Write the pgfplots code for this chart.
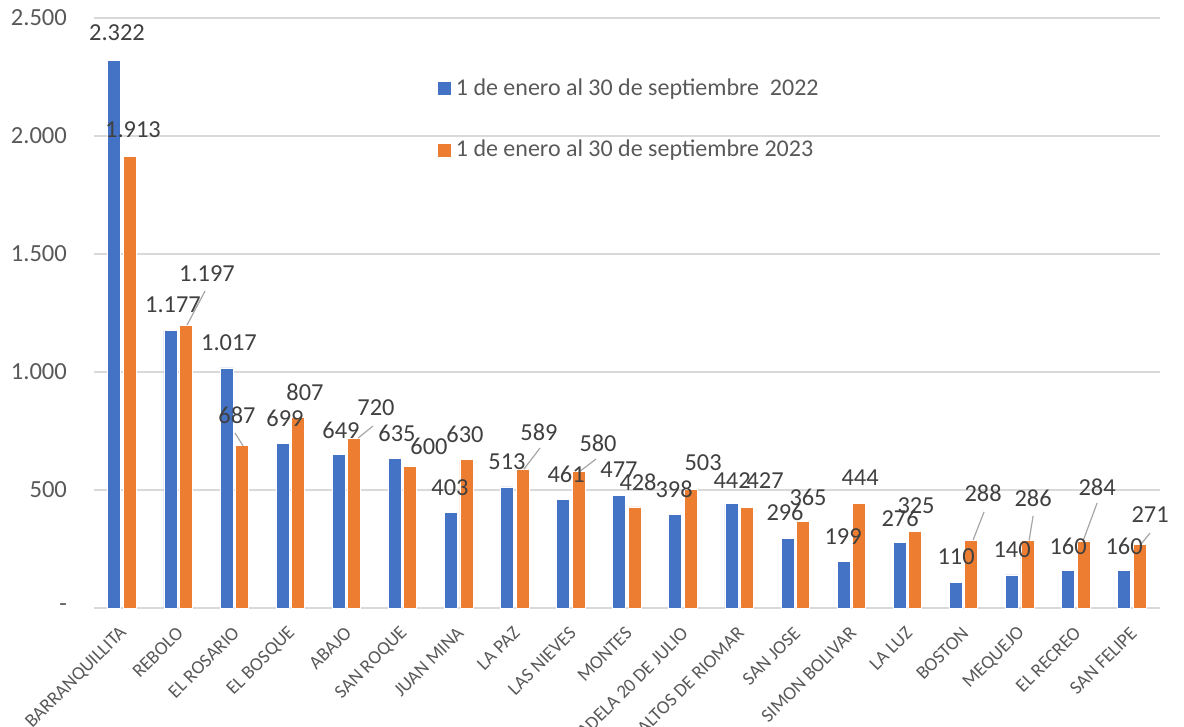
\documentclass[border=0pt]{standalone}
\usepackage{pgfplots}
\pgfplotsset{compat=1.18}
\usepackage{fontspec}
\setmainfont{Carlito}
\definecolor{cblue}{HTML}{4472C4}
\definecolor{corange}{HTML}{ED7D31}
\definecolor{tickc}{HTML}{595959}
\definecolor{labc}{HTML}{404040}
\definecolor{gridc}{HTML}{D9D9D9}
\definecolor{leadc}{HTML}{A6A6A6}
\newcommand{\fs}{\fontsize{9.5}{11}\selectfont}
\newcommand{\fl}{\fontsize{12.2}{14}\selectfont}
\newcommand{\fy}{\fontsize{12.3}{14}\selectfont}
\newcommand{\fg}{\fontsize{12}{14}\selectfont}
\begin{document}
\begin{tikzpicture}
\begin{axis}[
  at={(0,0)}, anchor=south west,
  scale only axis, width=533pt, height=295pt,
  ymin=0, ymax=2500, xmin=-0.5, xmax=18.5,
  ybar=1.25pt, bar width=6.5pt,
  clip=false,
  separate axis lines,
  axis x line*=bottom, axis y line*=left,
  x axis line style={color=gridc, line width=0.8pt},
  y axis line style={draw=none},
  ymajorgrids, grid style={color=gridc, line width=0.6pt},
  major tick length=0pt,
  ytick={0,500,1000,1500,2000,2500},
  yticklabels={-,500,1.000,1.500,2.000,2.500},
  yticklabel style={font=\fy, color=tickc, xshift=-10pt},
  xtick={0,...,18},
  xticklabels={BARRANQUILLITA,REBOLO,EL ROSARIO,EL BOSQUE,ABAJO,SAN ROQUE,JUAN MINA,LA PAZ,LAS NIEVES,MONTES,CIUDADELA 20 DE JULIO,ALTOS DE RIOMAR,SAN JOSE,SIMON BOLIVAR,LA LUZ,BOSTON,MEQUEJO,EL RECREO,SAN FELIPE},
  xticklabel style={font=\fs, color=tickc, xshift=1pt, yshift=-11pt, rotate=45, anchor=east, inner sep=0pt},
  legend style={draw=none, fill=none, at={(0.3215,0.905)}, anchor=north west, font=\fg, text=tickc, row sep=17pt, inner sep=0pt},
  legend cell align=left,
  legend image code/.code={\fill[#1] (0pt,-3.5pt) rectangle (7pt,3.5pt);},
]
\addplot[fill=cblue, draw=white, line width=0.4pt] coordinates {
(0,2322) (1,1177) (2,1017) (3,699) (4,649) (5,635) (6,403) (7,513) (8,461) (9,477)
(10,398) (11,442) (12,296) (13,199) (14,276) (15,110) (16,140) (17,160) (18,160)};
\addlegendentry{1 de enero al 30 de septiembre\ \ 2022}
\addplot[fill=corange, draw=white, line width=0.4pt] coordinates {
(0,1913) (1,1197) (2,687) (3,807) (4,720) (5,600) (6,630) (7,589) (8,580) (9,428)
(10,503) (11,427) (12,365) (13,444) (14,325) (15,288) (16,286) (17,284) (18,271)};
\addlegendentry{1 de enero al 30 de septiembre 2023}
% leader lines
\draw[leadc, line width=0.6pt] (axis cs:1.158,1199) -- (axis cs:1.479,1343);
\draw[leadc, line width=0.6pt] (axis cs:2.013,742) -- (axis cs:2.156,687);
\draw[leadc, line width=0.6pt] (axis cs:4.206,720) -- (axis cs:4.473,771);
\draw[leadc, line width=0.6pt] (axis cs:7.165,589) -- (axis cs:7.450,678);
\draw[leadc, line width=0.6pt] (axis cs:8.163,580) -- (axis cs:8.448,631);
\draw[leadc, line width=0.6pt] (axis cs:15.168,288) -- (axis cs:15.364,407);
\draw[leadc, line width=0.6pt] (axis cs:16.167,286) -- (axis cs:16.238,390);
\draw[leadc, line width=0.6pt] (axis cs:17.129,284) -- (axis cs:17.379,445);
\draw[leadc, line width=0.6pt] (axis cs:18.163,271) -- (axis cs:18.324,318);
% data labels
\tikzset{lbl/.style={font=\fl, text=labc, inner sep=0pt, anchor=center}}
\node[lbl] at (axis cs:-0.090,2436) {2.322};
\node[lbl] at (axis cs:0.195,2025) {1.913};
\node[lbl] at (axis cs:0.908,1284) {1.177};
\node[lbl] at (axis cs:1.514,1415) {1.197};
\node[lbl] at (axis cs:1.906,1123) {1.017};
\node[lbl] at (axis cs:2.049,818) {687};
\node[lbl] at (axis cs:2.905,805) {699};
\node[lbl] at (axis cs:3.261,915) {807};
\node[lbl] at (axis cs:3.903,754) {649};
\node[lbl] at (axis cs:4.527,847) {720};
\node[lbl] at (axis cs:4.901,742) {635};
\node[lbl] at (axis cs:5.471,686) {600};
\node[lbl] at (axis cs:5.846,508) {403};
\node[lbl] at (axis cs:6.113,737) {630};
\node[lbl] at (axis cs:6.862,619) {513};
\node[lbl] at (axis cs:7.432,746) {589};
\node[lbl] at (axis cs:7.914,568) {461};
\node[lbl] at (axis cs:8.484,699) {580};
\node[lbl] at (axis cs:8.858,585) {477};
\node[lbl] at (axis cs:9.197,534) {428};
\node[lbl] at (axis cs:9.839,504) {398};
\node[lbl] at (axis cs:10.356,614) {503};
\node[lbl] at (axis cs:10.873,542) {442};
\node[lbl] at (axis cs:11.461,542) {427};
\node[lbl] at (axis cs:11.817,407) {296};
\node[lbl] at (axis cs:12.227,470) {365};
\node[lbl] at (axis cs:12.851,301) {199};
\node[lbl] at (axis cs:13.154,551) {444};
\node[lbl] at (axis cs:13.867,381) {276};
\node[lbl] at (axis cs:14.152,432) {325};
\node[lbl] at (axis cs:14.865,216) {110};
\node[lbl] at (axis cs:15.347,487) {288};
\node[lbl] at (axis cs:15.864,246) {140};
\node[lbl] at (axis cs:16.238,466) {286};
\node[lbl] at (axis cs:16.862,263) {160};
\node[lbl] at (axis cs:17.379,513) {284};
\node[lbl] at (axis cs:17.860,263) {160};
\node[lbl] at (axis cs:18.324,394) {271};
\end{axis}
\pgfresetboundingbox
\useasboundingbox (-47pt,-59.5pt) rectangle (545pt,304pt);
\end{tikzpicture}
\end{document}
